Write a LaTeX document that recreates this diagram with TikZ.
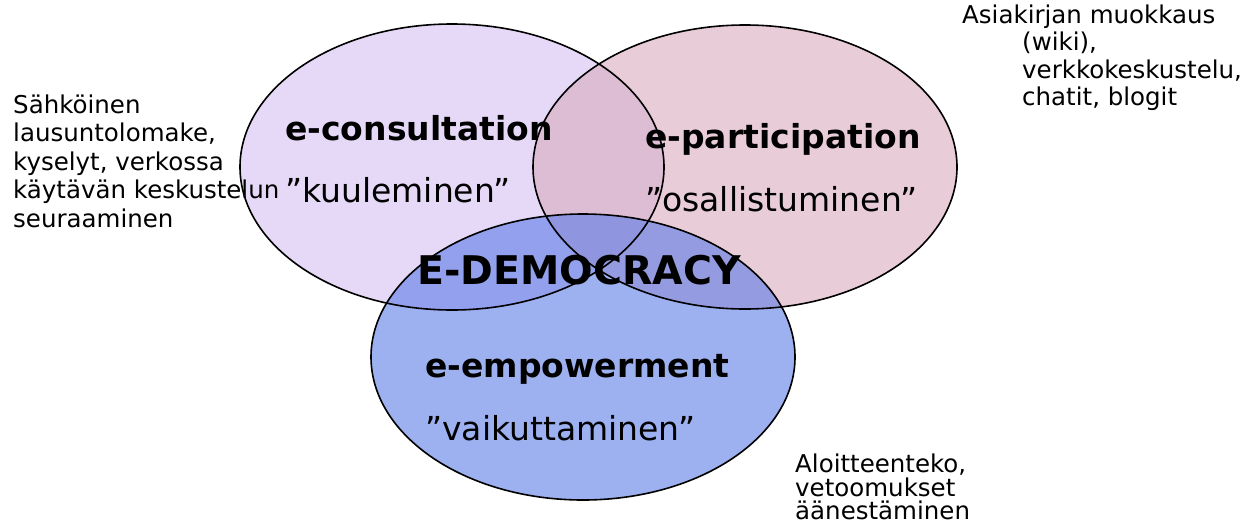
\documentclass[tikz,border=0pt]{standalone}
\usepackage{fontspec}
\setmainfont{DejaVu Sans}
\definecolor{cleft}{RGB}{213,192,242}
\definecolor{cright}{RGB}{217,170,190}
\definecolor{cbottom}{RGB}{92,123,230}
\begin{document}
\begin{tikzpicture}[x=1pt,y=-1pt,
  big/.style={inner sep=0pt,anchor=base west,font=\fontsize{33}{40}\selectfont\bfseries},
  quote/.style={inner sep=0pt,anchor=base west,font=\fontsize{33}{40}\selectfont},
  note/.style={inner sep=0pt,anchor=base west,font=\fontsize{24.5}{28}\selectfont},
  ring/.style={line width=1.6pt,draw=black}]
\useasboundingbox (0,0) rectangle (1250,523);
% fills
\fill[cleft,fill opacity=0.6] (452,167) ellipse [x radius=212, y radius=143];
\fill[cright,fill opacity=0.6] (745,167) ellipse [x radius=212, y radius=142];
\fill[cbottom,fill opacity=0.6] (583,357) ellipse [x radius=212, y radius=143];
% outlines
\draw[ring] (452,167) ellipse [x radius=212, y radius=143];
\draw[ring] (745,167) ellipse [x radius=212, y radius=142];
\draw[ring] (583,357) ellipse [x radius=212, y radius=143];
% labels
\node[big] (cons) at (285,140) {e-consultation};
\node[quote] (kuul) at (285,202) {”kuuleminen”};
\node[big] (part) at (645,148) {e-participation};
\node[quote] (osal) at (645,211) {”osallistuminen”};
\node[big,font=\fontsize{39.5}{46}\selectfont\bfseries] (edem) at (417,284) {E-DEMOCRACY};
\node[big] (empo) at (425,377) {e-empowerment};
\node[quote] (vaik) at (425,440) {”vaikuttaminen”};
% left notes
\node[note] (l1) at (13,113) {Sähköinen};
\node[note] (l2) at (13,141.5) {lausuntolomake,};
\node[note] (l3) at (13,170) {kyselyt, verkossa};
\node[note] (l4) at (13,198.5) {käytävän keskustelun};
\node[note] (l5) at (13,227) {seuraaminen};
% right notes
\node[note] (r1) at (962,23) {Asiakirjan muokkaus};
\node[note] (r2) at (1022,50) {(wiki),};
\node[note] (r3) at (1022,78) {verkkokeskustelu,};
\node[note] (r4) at (1022,105) {chatit, blogit};
% bottom notes
\node[note] (b1) at (795,472) {Aloitteenteko,};
\node[note] (b2) at (795,496) {vetoomukset};
\node[note] (b3) at (795,519) {äänestäminen};
\end{tikzpicture}
\end{document}
